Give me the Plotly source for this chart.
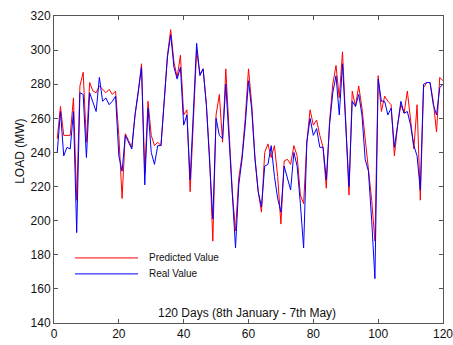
import plotly.graph_objects as go

# Daily load over 120 days (8th January - 7th May), MW
days = list(range(1, 121))

real_load = [
    240, 264, 238, 243, 242, 264, 193, 275, 274, 237,
    275, 270, 264, 284, 270, 272, 268, 270, 273, 238,
    229, 250, 246, 242, 262, 276, 290, 221, 266, 240,
    233, 244, 244, 270, 296, 309, 290, 283, 290, 256,
    262, 224, 268, 304, 285, 289, 268, 236, 201, 260,
    250, 248, 280, 248, 218, 184, 221, 236, 256, 282,
    265, 236, 217, 208, 232, 233, 244, 226, 213, 205,
    232, 225, 218, 240, 232, 210, 184, 246, 260, 250,
    254, 243, 243, 224, 256, 275, 285, 262, 292, 256,
    220, 270, 267, 274, 262, 236, 229, 200, 166, 283,
    270, 270, 262, 266, 243, 256, 270, 263, 264, 256,
    244, 238, 218, 280, 281, 281, 268, 262, 278, 280,
]

predicted_load = [
    248, 267, 250, 250, 250, 272, 212, 279, 287, 246,
    281, 276, 275, 279, 277, 275, 277, 274, 276, 250,
    213, 251, 247, 243, 262, 275, 292, 228, 270, 250,
    244, 246, 244, 268, 297, 312, 293, 284, 297, 262,
    265, 217, 262, 300, 286, 289, 268, 237, 188, 262,
    274, 246, 289, 250, 217, 194, 225, 238, 260, 289,
    268, 237, 217, 205, 240, 245, 237, 244, 226, 198,
    235, 236, 233, 244, 238, 215, 210, 246, 265, 256,
    259, 250, 243, 219, 258, 280, 291, 272, 299, 258,
    215, 276, 267, 279, 266, 248, 230, 212, 188, 285,
    264, 273, 270, 268, 238, 256, 268, 263, 276, 257,
    242, 268, 212, 278, 281, 281, 270, 252, 284, 282,
]

series_names = ["Predicted Value", "Real Value"]
series_colors = ["#ff0000", "#0000ff"]

x_ticks = [0, 20, 40, 60, 80, 100, 120]
y_ticks = [140, 160, 180, 200, 220, 240, 260, 280, 300, 320]

fig = go.Figure()
fig.add_trace(go.Scatter(x=days, y=predicted_load, mode="lines",
                         name=series_names[0],
                         line=dict(color=series_colors[0], width=1)))
fig.add_trace(go.Scatter(x=days, y=real_load, mode="lines",
                         name=series_names[1],
                         line=dict(color=series_colors[1], width=1)))

axis_style = dict(
    showline=True, linecolor="#555555", linewidth=1, mirror="ticks",
    ticks="inside", ticklen=4, tickcolor="#555555",
    showgrid=False, zeroline=False, automargin=False,
    ticklabeloverflow="allow",
    tickfont=dict(family="Liberation Sans, Arial", size=12, color="#111111"),
)

fig.update_xaxes(range=[0, 120], tickvals=x_ticks, **axis_style)
fig.update_yaxes(range=[140, 320], tickvals=y_ticks, **axis_style)

text_font = dict(family="Liberation Sans, Arial", size=12, color="#111111")

# Y-axis title
fig.add_annotation(xref="paper", yref="paper", x=-0.088, y=0.56,
                   text="LOAD (MW)", showarrow=False, textangle=-90,
                   xanchor="center", yanchor="middle", font=text_font)

# Hand-built legend in the lower left of the plot area
legend_rows = [(0.212, series_names[0], series_colors[0]),
               (0.160, series_names[1], series_colors[1])]
for y_pos, label, color in legend_rows:
    fig.add_shape(type="line", xref="paper", yref="paper",
                  x0=0.054, x1=0.216, y0=y_pos, y1=y_pos,
                  line=dict(color=color, width=1))
    fig.add_annotation(xref="paper", yref="paper", x=0.238, y=y_pos,
                       text=label, showarrow=False, xanchor="left",
                       yanchor="middle",
                       font=dict(family="Liberation Sans, Arial", size=10,
                                 color="#111111"))

# X-axis caption sits inside the plot, just above the bottom axis
fig.add_annotation(xref="paper", yref="paper", x=0.495, y=0.032,
                   text="120 Days (8th January - 7th May)", showarrow=False,
                   xanchor="center", yanchor="middle", font=text_font)

fig.update_layout(
    width=453, height=345,
    margin=dict(l=54, r=10, t=16, b=22),
    paper_bgcolor="white", plot_bgcolor="white",
    showlegend=False,
)

fig.write_html("out.html")
